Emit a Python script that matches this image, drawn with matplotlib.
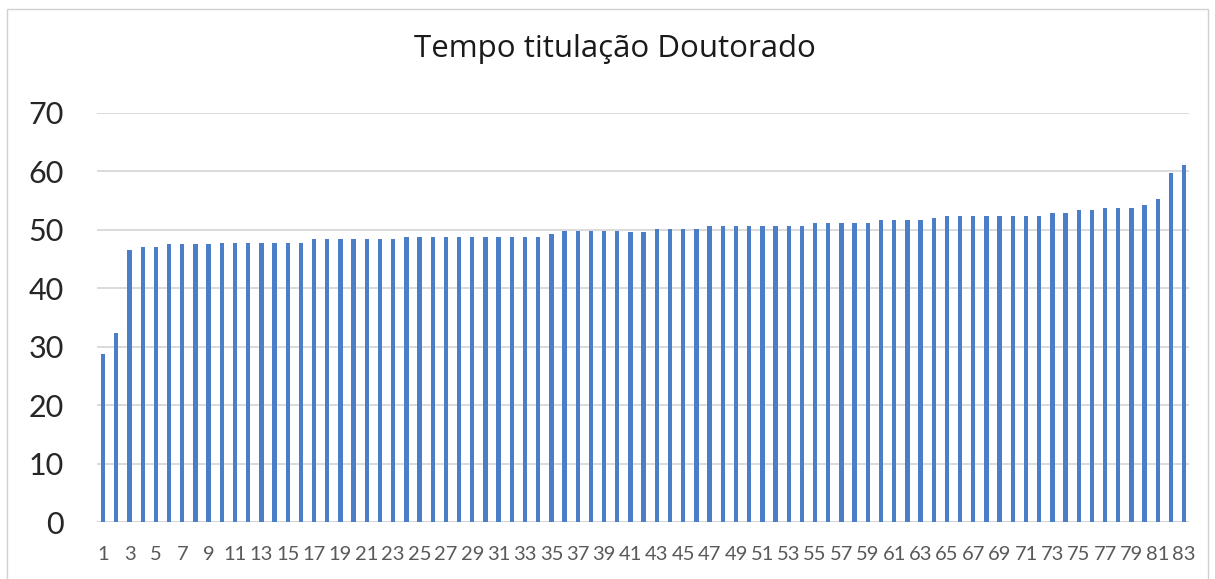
import numpy as np
import matplotlib
matplotlib.use("Agg")
import matplotlib.pyplot as plt
from matplotlib.patches import Rectangle

plt.rcParams['font.family'] = ['Lato', 'DejaVu Sans']

title = "Tempo titulação Doutorado"

# meses até a titulação, ordenados
tempos = [
    28.8, 32.4, 46.5, 47.1, 47.1, 47.5, 47.5, 47.5, 47.5, 47.8,
    47.8, 47.8, 47.8, 47.8, 47.8, 47.8, 48.4, 48.4, 48.4, 48.4,
    48.4, 48.4, 48.4, 48.7, 48.7, 48.7, 48.7, 48.7, 48.7, 48.7,
    48.7, 48.7, 48.7, 48.7, 49.3, 49.8, 49.8, 49.8, 49.8, 49.8,
    49.7, 49.7, 50.1, 50.1, 50.1, 50.1, 50.6, 50.6, 50.6, 50.6,
    50.6, 50.6, 50.6, 50.6, 51.1, 51.1, 51.1, 51.1, 51.1, 51.6,
    51.6, 51.6, 51.6, 52.0, 52.4, 52.4, 52.4, 52.4, 52.4, 52.4,
    52.4, 52.4, 52.9, 52.9, 53.4, 53.4, 53.8, 53.8, 53.8, 54.3,
    55.2, 59.8, 61.1,
]
posicao = np.arange(1, len(tempos) + 1)
rotulos_x = [str(p) for p in posicao[::2]]
y_ticks = [0, 10, 20, 30, 40, 50, 60, 70]

fig = plt.figure(figsize=(12.15, 5.79), dpi=100)
ax = fig.add_axes([0.080, 0.0984, 0.899, 0.7066])

ax.bar(posicao, tempos, width=0.33, color='#4a7ec6', zorder=3)

ax.set_xlim(0.55, 83.4)
ax.set_ylim(0, 70)
ax.set_yticks(y_ticks)
ax.set_yticklabels([str(v) for v in y_ticks], fontsize=22, color='#262626')
ax.set_xticks(posicao[::2])
ax.set_xticklabels(rotulos_x, fontsize=14.5, color='#595959')
ax.tick_params(axis='both', length=0)
ax.tick_params(axis='y', pad=24)
ax.tick_params(axis='x', pad=17)
ax.grid(axis='y', color='#d4d4d4', linewidth=1.2, zorder=0)
for s in ax.spines.values():
    s.set_visible(False)
ax.axhline(0, color='#d4d4d4', linewidth=1.2, zorder=2)

fig.text(0.506, 0.9016, title, ha='center', va='baseline', fontsize=22.5,
         family=['Open Sans', 'DejaVu Sans'], color='#1a1a1a')

# moldura do gráfico
fig.patches.append(Rectangle((0.006, -0.02), 0.988, 1.005, transform=fig.transFigure,
                             fill=False, edgecolor='#d0d0d0', linewidth=1))

fig.savefig('out.png', dpi=100)
